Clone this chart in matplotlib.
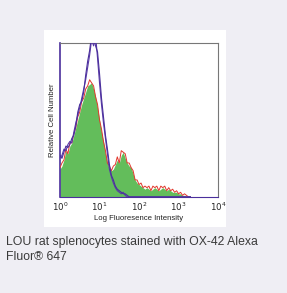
import matplotlib
matplotlib.use("Agg")
import matplotlib.pyplot as plt
import numpy as np

# histogram heights (fraction of axis height) on 0.05-decade bins from 10^0
green = [0.18, 0.20, 0.24, 0.30, 0.28, 0.33, 0.35, 0.40, 0.45, 0.50,
         0.55, 0.60, 0.64, 0.68, 0.72, 0.73, 0.74, 0.70, 0.65, 0.58,
         0.50, 0.42, 0.36, 0.28, 0.22, 0.18, 0.17, 0.18, 0.21, 0.24,
         0.22, 0.27, 0.29, 0.25, 0.22, 0.20, 0.19, 0.15, 0.11, 0.09,
         0.08, 0.07, 0.06, 0.05, 0.06, 0.05, 0.04, 0.05, 0.06, 0.05,
         0.04, 0.05, 0.06, 0.05, 0.04, 0.05, 0.04, 0.03, 0.03, 0.03,
         0.02, 0.02, 0.01, 0.01, 0.00, 0.00, 0.00]
red = [0.19, 0.22, 0.24, 0.31, 0.28, 0.35, 0.35, 0.41, 0.45, 0.52,
       0.55, 0.62, 0.64, 0.70, 0.72, 0.76, 0.74, 0.72, 0.65, 0.60,
       0.50, 0.44, 0.36, 0.30, 0.22, 0.20, 0.17, 0.20, 0.21, 0.26,
       0.22, 0.30, 0.29, 0.28, 0.22, 0.22, 0.19, 0.17, 0.11, 0.11,
       0.08, 0.09, 0.06, 0.07, 0.06, 0.07, 0.04, 0.07, 0.06, 0.07,
       0.04, 0.07, 0.06, 0.07, 0.04, 0.06, 0.04, 0.05, 0.03, 0.04,
       0.02, 0.03, 0.01, 0.02, 0.01, 0.00, 0.00]
purple1 = [0.25, 0.27, 0.31, 0.30, 0.34, 0.36, 0.35, 0.42, 0.48, 0.53,
           0.58, 0.64, 0.70, 0.76, 0.84, 0.92, 1.02, 0.98, 1.05, 0.90,
           0.74, 0.60, 0.48, 0.38, 0.28, 0.18, 0.13, 0.09, 0.06, 0.04,
           0.03, 0.02, 0.03, 0.01, 0.00, 0.00, 0.00, 0.00, 0.00, 0.00,
           0.00, 0.00, 0.00, 0.00, 0.00, 0.00, 0.00, 0.00, 0.00, 0.00,
           0.00, 0.00, 0.00, 0.00, 0.00, 0.00, 0.00, 0.00, 0.00, 0.00,
           0.00, 0.00, 0.00, 0.00, 0.00, 0.00, 0.00]
purple2 = [0.27, 0.25, 0.29, 0.33, 0.32, 0.34, 0.38, 0.40, 0.46, 0.55,
           0.60, 0.62, 0.68, 0.79, 0.88, 0.95, 1.05, 1.03, 0.98, 0.94,
           0.80, 0.64, 0.52, 0.40, 0.31, 0.21, 0.14, 0.11, 0.07, 0.05,
           0.04, 0.03, 0.02, 0.02, 0.01, 0.00, 0.00, 0.00, 0.00, 0.00,
           0.00, 0.00, 0.00, 0.00, 0.00, 0.00, 0.00, 0.00, 0.00, 0.00,
           0.00, 0.00, 0.00, 0.00, 0.00, 0.00, 0.00, 0.00, 0.00, 0.00,
           0.00, 0.00, 0.00, 0.00, 0.00, 0.00, 0.00]
xticks = [1, 10, 100, 1000, 10000]
xticklabels = ["$10^0$", "$10^1$", "$10^2$", "$10^3$", "$10^4$"]
caption = "LOU rat splenocytes stained with OX-42 Alexa\nFluor\u00ae 647"

x = 10 ** (np.arange(len(green)) * 0.05)

plt.rcParams["font.family"] = ["Liberation Sans", "DejaVu Sans"]
fig = plt.figure(figsize=(2.87, 2.93), dpi=100, facecolor="#efeef4")

# white card behind the plot
card = fig.add_axes([0.153, 0.225, 0.634, 0.672], zorder=0)
card.axis("off")
card.add_patch(plt.Rectangle((0, 0), 1, 1, transform=card.transAxes,
                             facecolor="white", edgecolor="none"))

ax = fig.add_axes([0.209, 0.328, 0.551, 0.526], zorder=2)
ax.set_facecolor("white")
ax.fill_between(x, green, color="#63bd5b", lw=0, zorder=2)
ax.plot(x, red, color="#e2372c", lw=0.7, zorder=3)
ax.plot(x, purple1, color="#5a3aa8", lw=0.8, zorder=4)
ax.plot(x, purple2, color="#4a2f9c", lw=0.8, zorder=4)

ax.set_xscale("log")
ax.set_xlim(1, 10000)
ax.set_ylim(0, 1)
ax.set_xticks(xticks)
ax.set_xticklabels(xticklabels, fontsize=6.2, color="#222222")
ax.minorticks_off()
ax.tick_params(axis="x", length=0, pad=3)
ax.set_yticks([])
ax.set_xlabel("Log Fluoresence Intensity", fontsize=5.6, color="#222222", labelpad=1)
ax.set_ylabel("Relative Cell Number", fontsize=5.6, color="#222222", labelpad=3)
for s in ("top", "right"):
    ax.spines[s].set_color("#777777")
    ax.spines[s].set_linewidth(0.8)
ax.spines["bottom"].set_color("#4a2f9c")
ax.spines["left"].set_color("#4a2f9c")
ax.spines["left"].set_linewidth(1.2)

fig.text(0.021, 0.195, caption, fontsize=8.8, color="#3a3a3a", va="top", ha="left",
         linespacing=1.35)

fig.savefig("out.png", dpi=100, facecolor=fig.get_facecolor())
